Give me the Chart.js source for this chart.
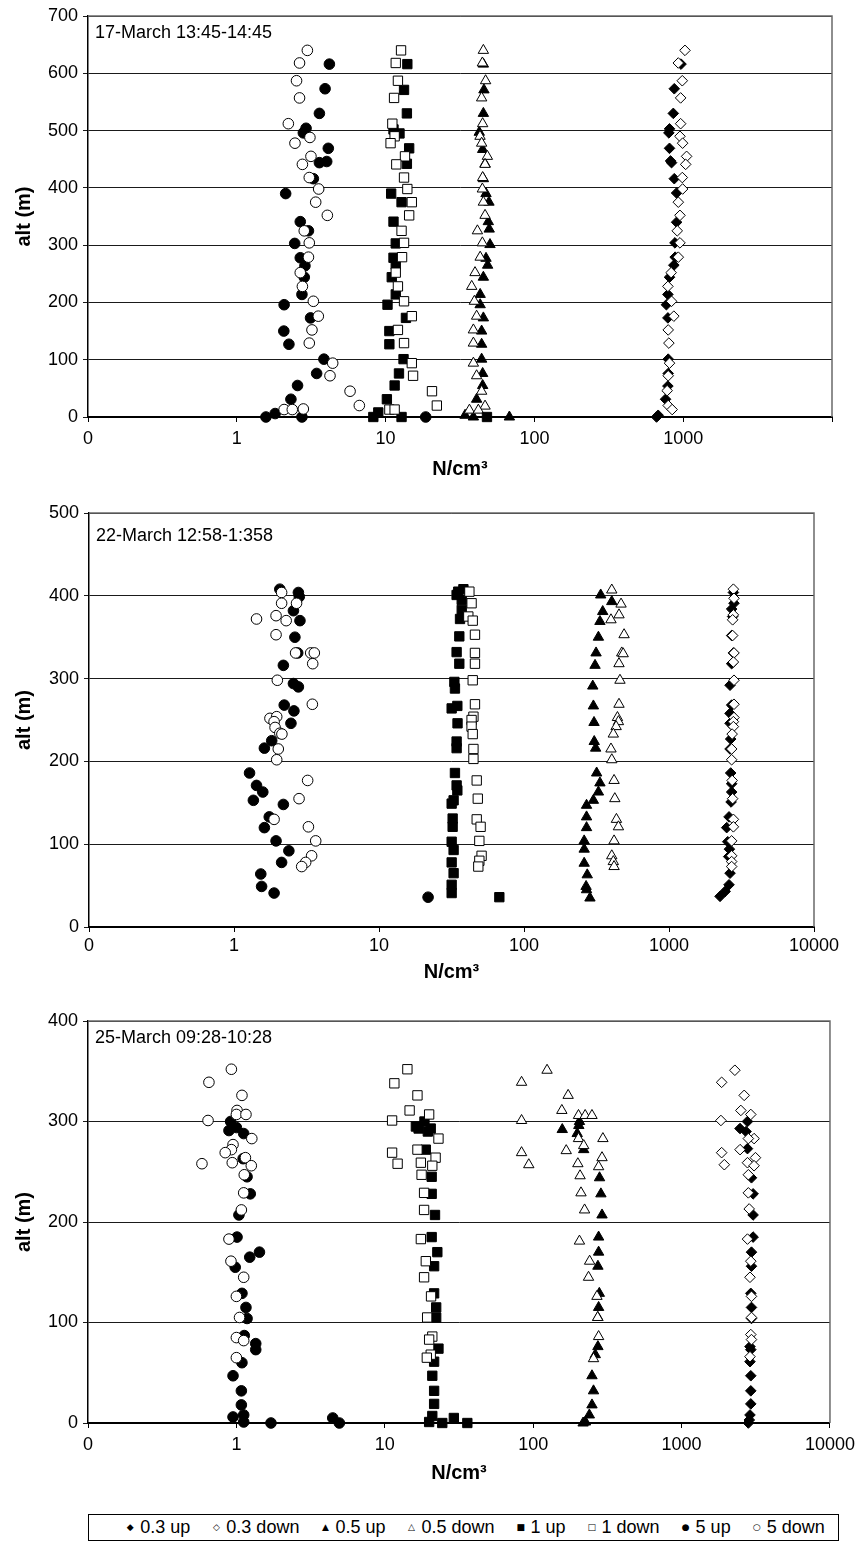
<!DOCTYPE html>
<html>
<head>
<meta charset="utf-8">
<script src="https://cdn.jsdelivr.net/npm/chart.js@4.4.0/dist/chart.umd.min.js"></script>
<style>
html,body{margin:0;padding:0;background:#fff;}
body{width:861px;height:1542px;position:relative;overflow:hidden;font-family:"Liberation Sans",Arial,sans-serif;}
canvas{position:absolute;left:0;}
#legend{position:absolute;left:88px;top:1514px;width:751px;height:27px;box-sizing:border-box;border:1px solid #000;
  display:flex;align-items:center;justify-content:center;padding-left:24px;font-size:18px;color:#000;white-space:nowrap;}
#legend .it{display:flex;align-items:center;margin-right:22px;}
#legend .it:last-child{margin-right:0;}
#legend .mk{display:inline-block;width:8px;text-align:center;font-family:"DejaVu Sans";font-size:9px;margin-right:6px;line-height:1;}
</style>
</head>
<body>
<canvas id="c1" width="861" height="490" style="top:0px"></canvas>
<canvas id="c2" width="861" height="490" style="top:495px"></canvas>
<canvas id="c3" width="861" height="490" style="top:1000px"></canvas>
<div id="legend"></div>
<script>
// ---------- tick labels / categories ----------
const SERIES_NAMES = ['0.3 up','0.3 down','0.5 up','0.5 down','1 up','1 down','5 up','5 down'];
const X_TICKS = [0.1, 1, 10, 100, 1000, 10000];
const X_LABELS_P1 = ['0','1','10','100','1000',''];
const X_LABELS = ['0','1','10','100','1000','10000'];
const P1_TITLE = '17-March 13:45-14:45';
const P2_TITLE = '22-March 12:58-1:358';
const P3_TITLE = '25-March 09:28-10:28';
const P1_YMAX = 700, P2_YMAX = 500, P3_YMAX = 400;

// ---------- Panel 1 : [N/cm3, alt m] ----------
const P1_03UP = [[967,616],[871,573],[858,530],[809,503],[801,496],[809,469],[822,447],[835,444],[871,416],[903,391],[903,340],[880,304],[883,279],[865,265],[809,244],[789,214],[771,196],[789,173],[793,101],[793,76],[789,54],[761,31],[679,3],[662,0]];
const P1_03DN = [[1028,640],[927,618],[986,587],[961,557],[961,512],[951,490],[991,478],[1054,455],[1039,441],[986,418],[991,398],[927,375],[951,352],[912,325],[951,304],[927,279],[830,252],[789,228],[835,202],[865,176],[793,152],[801,129],[809,94],[793,72],[780,46],[793,20],[843,13]];
const P1_05UP = [[45.4,616],[45.8,571],[45.4,530],[42.6,497],[44.9,467],[46.6,442],[45.4,416],[47.3,390],[49.5,375],[49.0,341],[49.7,328],[50.3,301],[47.3,277],[48.5,265],[45.4,244],[43.2,214],[43.2,196],[45.4,173],[44.2,150],[44.2,127],[44.2,101],[44.9,76],[44.9,55],[40.9,31],[34.2,3],[38.9,0],[67.9,0]];
const P1_05DN = [[45.4,640],[44.7,618],[47.0,587],[44.2,557],[44.9,512],[43.1,490],[44.2,478],[48.3,455],[46.6,441],[44.9,418],[44.7,398],[45.4,375],[46.6,352],[41.4,325],[44.7,304],[43.2,279],[39.9,252],[37.9,228],[39.5,202],[40.9,176],[38.9,152],[38.9,129],[38.9,94],[40.9,72],[44.2,45],[46.6,19],[36.6,12],[42.0,12]];
const P1_1UP = [[14.0,616],[13.3,571],[13.9,530],[11.3,502],[12.4,495],[14.4,469],[13.9,442],[10.9,390],[12.8,375],[11.3,341],[11.7,303],[11.3,278],[11.7,266],[11.0,244],[11.7,214],[10.3,196],[13.7,173],[10.6,150],[10.6,127],[13.2,101],[12.3,76],[11.5,55],[10.2,31],[8.93,8],[8.27,0],[12.8,0],[48,0]];
const P1_1DN = [[12.7,640],[11.7,618],[12.1,587],[11.4,557],[11.1,512],[11.5,490],[10.8,478],[13.5,455],[11.8,441],[13.3,418],[14.0,398],[15.0,375],[14.4,352],[12.8,325],[13.3,304],[12.9,279],[11.7,252],[12.1,228],[13.3,202],[15.0,176],[12.1,152],[13.3,129],[15.0,94],[15.3,72],[20.5,45],[22.1,20],[10.6,13],[11.5,13]];
const P1_5UP = [[4.19,616],[3.92,573],[3.59,530],[2.92,504],[2.80,496],[4.12,469],[3.59,444],[4.02,446],[3.27,416],[2.13,390],[2.67,341],[3.03,325],[2.45,303],[2.67,278],[2.87,264],[2.84,244],[2.74,214],[2.08,196],[3.13,173],[2.07,150],[2.24,127],[3.85,101],[3.44,76],[2.56,55],[2.31,31],[1.81,6],[1.57,0],[2.74,0],[18.6,0]];
const P1_5DN = [[2.98,640],[2.64,618],[2.52,587],[2.64,557],[2.22,512],[3.10,488],[2.46,478],[3.15,455],[2.76,441],[3.07,418],[3.55,398],[3.39,375],[4.06,352],[2.84,325],[3.07,304],[3.03,279],[2.67,252],[2.76,228],[3.27,202],[3.53,176],[3.20,152],[3.07,129],[4.41,94],[4.23,72],[5.77,45],[6.66,20],[2.08,13],[2.36,13],[2.80,14]];

// ---------- Panel 2 ----------
const P2_03UP = [[2780,404],[2807,391],[2704,384],[2747,375],[2704,352],[2780,331],[2704,318],[2636,292],[2704,268],[2636,258],[2636,246],[2663,227],[2636,215],[2663,186],[2704,173],[2704,163],[2680,151],[2594,133],[2500,120],[2541,103],[2610,94],[2580,85],[2636,65],[2594,51],[2440,43],[2249,37]];
const P2_03DN = [[2780,408],[2807,397],[2780,377],[2747,371],[2747,352],[2807,331],[2780,320],[2807,298],[2807,269],[2807,253],[2780,248],[2780,242],[2725,233],[2704,215],[2704,202],[2725,177],[2747,155],[2780,130],[2780,121],[2704,104],[2704,86],[2704,79],[2704,73]];
const P2_05UP = [[338,401],[403,393],[349,381],[334,369],[326,350],[314,331],[309,316],[298,291],[301,267],[304,247],[305,224],[312,216],[317,186],[334,174],[326,163],[301,153],[270,147],[270,133],[270,120],[260,104],[260,94],[260,77],[273,63],[268,49],[270,45],[285,35]];
const P2_05DN = [[403,407],[467,390],[452,377],[398,371],[490,353],[472,331],[483,330],[452,318],[459,298],[452,269],[441,253],[448,248],[432,242],[413,233],[398,215],[403,202],[418,177],[423,155],[434,130],[448,121],[418,104],[403,86],[413,79],[418,73]];
const P2_1UP = [[38.2,408],[35.2,405],[34.3,401],[37.2,395],[37.2,383],[36.2,372],[35.8,351],[34.3,332],[35.8,318],[33.1,296],[33.4,288],[31.7,264],[34.7,267],[34.8,246],[34.3,224],[34.3,216],[33.4,186],[34.3,171],[34.7,165],[32.7,153],[31.7,149],[32.2,131],[32.2,121],[31.7,103],[32.7,93],[31.7,78],[32.7,65],[31.7,51],[31.7,41],[67.6,36]];
const P2_1DN = [[42.0,405],[43.5,391],[41.3,375],[44.3,370],[45.9,353],[45.9,331],[45.9,318],[44.3,298],[45.9,269],[44.8,254],[43.5,250],[43.5,242],[44.3,233],[44.8,215],[44.8,203],[47.2,177],[48.0,155],[47.2,130],[50.2,121],[49.2,104],[51.0,86],[49.2,80],[48.4,73]];
const P2_5UP = [[2.07,408],[2.78,404],[2.82,399],[2.57,382],[2.85,370],[2.63,350],[2.75,331],[2.19,316],[2.57,294],[2.78,290],[2.22,268],[2.59,261],[2.47,246],[1.82,225],[1.62,216],[1.28,186],[1.43,171],[1.58,163],[1.36,153],[2.19,148],[1.75,133],[1.62,120],[1.95,104],[2.39,92],[2.13,78],[1.53,64],[1.55,49],[1.89,41],[21.8,36]];
const P2_5DN = [[2.13,404],[2.13,391],[2.70,391],[1.43,372],[1.95,376],[2.29,370],[1.95,353],[2.66,331],[3.38,331],[3.58,331],[3.49,318],[1.99,298],[3.47,269],[1.77,252],[1.97,254],[1.89,248],[1.92,241],[2.07,234],[2.14,233],[2.02,215],[1.97,202],[3.22,177],[2.81,155],[1.89,130],[3.26,121],[3.66,104],[3.43,86],[3.12,78],[2.93,73]];

// ---------- Panel 3 ----------
const P3_03UP = [[2780,300],[2475,293],[2720,290],[2780,273],[2958,244],[3034,228],[3034,207],[3034,185],[2958,170],[2958,156],[2927,129],[2958,115],[2958,104],[2890,76],[2927,73],[2890,61],[2927,47],[2927,32],[2927,19],[2890,8],[2860,3],[2818,0]];
const P3_03DN = [[2286,351],[1862,339],[2642,326],[2508,311],[2927,307],[1841,301],[3080,283],[2818,283],[2478,272],[1862,269],[1941,257],[2780,259],[3147,264],[3080,256],[2818,247],[2818,229],[2855,213],[2780,183],[2927,161],[2890,145],[2958,126],[2958,105],[2927,88],[2958,83],[2890,66]];
const P3_05UP = [[205,300],[203,296],[157,292],[198,288],[219,272],[280,244],[286,228],[291,207],[276,185],[276,170],[273,156],[279,129],[276,115],[273,105],[273,76],[262,68],[249,47],[255,32],[249,18],[239,8],[225,1],[217,0]];
const P3_05DN = [[124,351],[83.5,339],[172,326],[156,311],[202,306],[224,306],[249,306],[83.5,301],[202,283],[295,283],[219,276],[83.5,269],[93.4,257],[167,271],[200,258],[291,264],[276,255],[207,246],[210,229],[222,212],[205,181],[240,161],[236,145],[269,126],[272,105],[276,86],[255,64]];
const P3_1UP = [[18.5,300],[16.2,295],[16.9,293],[20.4,293],[19.5,290],[18.9,272],[20.7,245],[20.7,228],[21.8,207],[20.7,185],[22.6,170],[21.5,156],[21.5,129],[22.2,115],[22.2,105],[23.0,74],[21.5,61],[20.9,47],[21.5,32],[21.5,19],[20.9,7],[19.9,1],[24.4,0],[29.2,5],[36.0,0]];
const P3_1DN = [[14.2,352],[11.6,338],[16.6,326],[14.7,311],[11.2,301],[19.9,307],[23.0,283],[16.6,272],[11.2,269],[22.0,264],[12.2,258],[17.5,259],[20.9,256],[17.7,247],[18.4,229],[18.4,212],[17.5,183],[18.9,161],[18.4,145],[20.5,126],[19.3,105],[20.9,86],[19.9,83],[20.4,68],[19.2,65]];
const P3_5UP = [[0.914,300],[0.891,291],[1.00,294],[1.12,288],[1.11,263],[1.18,245],[1.24,228],[1.04,207],[1.01,185],[1.43,170],[1.23,165],[0.982,155],[1.09,129],[1.16,115],[1.18,104],[1.13,87],[1.35,79],[1.35,73],[1.09,60],[0.949,47],[1.08,32],[1.08,18],[1.12,8],[0.949,6],[1.12,1],[1.71,0],[4.46,5],[4.94,0]];
const P3_5DN = [[0.925,352],[0.653,339],[1.09,326],[1.01,311],[1.00,307],[1.16,307],[0.644,301],[1.27,283],[0.949,277],[0.925,272],[0.841,269],[1.15,264],[0.938,259],[1.26,256],[0.586,258],[1.13,247],[1.12,229],[1.08,212],[0.891,183],[0.919,161],[1.12,145],[1.00,126],[1.05,105],[1.00,85],[1.12,82],[1.00,65]];

// ---------- styling ----------
const FAM = '"Liberation Sans", Arial, sans-serif';
const STYLES = [
  {pointStyle:'rectRot', r:5.3, fill:true},
  {pointStyle:'rectRot', r:5.3, fill:false},
  {pointStyle:'triangle', r:6, fill:true},
  {pointStyle:'triangle', r:6, fill:false},
  {pointStyle:'rect', r:6.6, fill:true},
  {pointStyle:'rect', r:6.6, fill:false},
  {pointStyle:'circle', r:5.3, fill:true},
  {pointStyle:'circle', r:5.3, fill:false}
];

function toPts(arr){ return arr.map(p => ({x:p[0], y:p[1]})); }

const framePlugin = {
  id:'frame',
  beforeDatasetsDraw(chart){
    const {ctx, chartArea:a} = chart;
    ctx.save();
    ctx.strokeStyle = '#6a6a6a'; ctx.lineWidth = 1.5;
    ctx.beginPath();
    ctx.moveTo(a.left, a.top); ctx.lineTo(a.right, a.top); ctx.lineTo(a.right, a.bottom);
    ctx.stroke();
    ctx.restore();
  },
  afterDraw(chart, args, opts){
    const {ctx, chartArea:a} = chart;
    ctx.save();
    ctx.font = '18px ' + FAM;
    ctx.fillStyle = '#000';
    ctx.textBaseline = 'middle';
    ctx.fillText(opts.text, a.left + 7, a.top + opts.dy);
    ctx.restore();
  }
};

function build(id, series, p){
  const H = 490, W = 861;
  const datasets = series.map((arr, i) => ({
    label: SERIES_NAMES[i],
    data: toPts(arr),
    pointStyle: STYLES[i].pointStyle,
    pointRadius: STYLES[i].r,
    pointBorderWidth: 1,
    pointBackgroundColor: STYLES[i].fill ? '#000' : '#fff',
    pointBorderColor: '#000',
    showLine: false,
    clip: false,
    order: 7 - i
  }));
  return new Chart(document.getElementById(id), {
    type: 'scatter',
    data: { datasets },
    plugins: [framePlugin],
    options: {
      responsive: false, animation: false, events: [],
      devicePixelRatio: 1,
      layout: { padding: { top: p.top, right: W - p.right, left: 0, bottom: 0 } },
      plugins: { legend: { display:false }, tooltip: { enabled:false }, frame: { text: p.title, dy: p.dy } },
      scales: {
        x: {
          type: 'logarithmic', min: 0.1, max: 10000, position: 'bottom',
          afterBuildTicks: s => { s.ticks = X_TICKS.map(v => ({value: v})); },
          afterFit: s => { s.height = H - p.bottom; },
          ticks: { callback: (v, i) => p.xlabels[i], font: {size: 18, family: FAM}, color: '#000', padding: p.xpad, maxRotation: 0, autoSkip: false },
          grid: { drawOnChartArea: false, drawTicks: true, tickLength: 5, color: '#000', lineWidth: 1 },
          border: { color: '#000', width: 2 },
          title: { display: true, text: 'N/cm³', color: '#000', font: {size: 20, weight: 'bold', family: FAM}, padding: {top: 0, bottom: p.tpad} }
        },
        y: {
          type: 'linear', min: 0, max: p.ymax,
          afterFit: s => { s.width = p.left; },
          ticks: { stepSize: 100, font: {size: 18, family: FAM}, color: '#000', padding: 5 },
          grid: { drawOnChartArea: true, drawTicks: true, tickLength: 5, color: '#1a1a1a', lineWidth: 1 },
          border: { color: '#000', width: 1.5 },
          title: { display: true, text: 'alt (m)', color: '#000', font: {size: 20, weight: 'bold', family: FAM}, padding: {top: 12, bottom: 0} }
        }
      }
    }
  });
}

build('c1', [P1_03UP,P1_03DN,P1_05UP,P1_05DN,P1_1UP,P1_1DN,P1_5UP,P1_5DN],
  {top:16, bottom:417, left:88, right:832, ymax:P1_YMAX, xlabels:X_LABELS_P1, title:P1_TITLE, dy:17, xpad:6, tpad:9});
build('c2', [P2_03UP,P2_03DN,P2_05UP,P2_05DN,P2_1UP,P2_1DN,P2_5UP,P2_5DN],
  {top:18, bottom:432, left:89, right:814, ymax:P2_YMAX, xlabels:X_LABELS, title:P2_TITLE, dy:23, xpad:3, tpad:1});
build('c3', [P3_03UP,P3_03DN,P3_05UP,P3_05DN,P3_1UP,P3_1DN,P3_5UP,P3_5DN],
  {top:21, bottom:423, left:88, right:832, ymax:P3_YMAX, xlabels:X_LABELS, title:P3_TITLE, dy:17, xpad:6, tpad:5});

// legend (HTML)
const MARKS = ['◆','◇','▲','△','■','□','●','○'];
const lg = document.getElementById('legend');
SERIES_NAMES.forEach((n, i) => {
  const it = document.createElement('span'); it.className = 'it';
  const mk = document.createElement('span'); mk.className = 'mk'; mk.textContent = MARKS[i];
  const tx = document.createElement('span'); tx.textContent = n;
  it.appendChild(mk); it.appendChild(tx); lg.appendChild(it);
});
</script>
</body>
</html>
